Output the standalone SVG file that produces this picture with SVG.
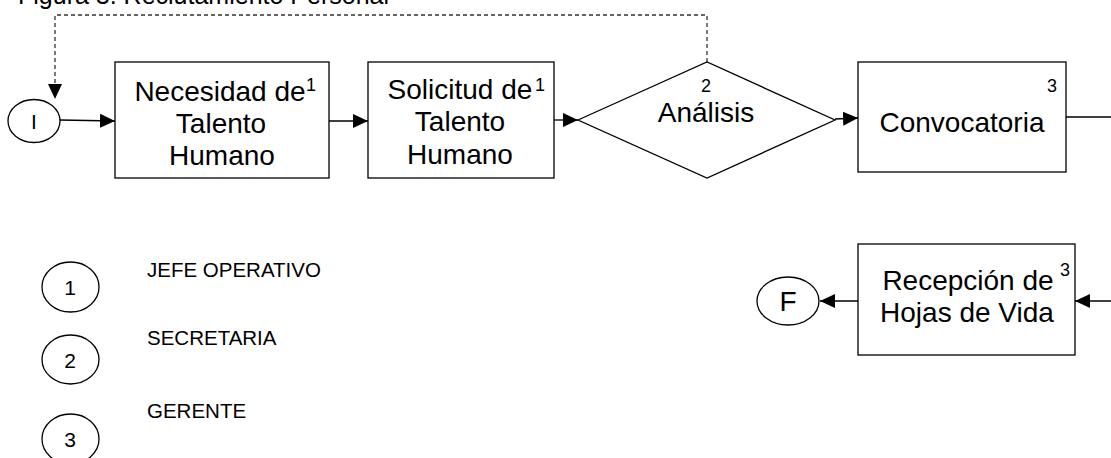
<svg xmlns="http://www.w3.org/2000/svg" width="1111" height="458" viewBox="0 0 1111 458">
  <style>
    .shape { fill: #ffffff; stroke: #000000; stroke-width: 1.3; }
    .line { fill: none; stroke: #000000; stroke-width: 1.3; }
    .dash { fill: none; stroke: #333333; stroke-width: 1.3; stroke-dasharray: 4 3; }
    .lbl { font-family: "Liberation Sans", Arial, sans-serif; font-size: 28px; fill: #000000; text-anchor: middle; }
    .sup { font-family: "Liberation Sans", Arial, sans-serif; font-size: 18px; fill: #000000; }
    .num { font-family: "Liberation Sans", Arial, sans-serif; font-size: 21px; fill: #000000; text-anchor: middle; }
    .role { font-family: "Liberation Sans", Arial, sans-serif; font-size: 20.5px; fill: #000000; }
    .title { font-family: "Liberation Sans", Arial, sans-serif; font-size: 25px; fill: #000000; }
  </style>
  <defs>
    <marker id="arrow" markerUnits="userSpaceOnUse" markerWidth="16" markerHeight="14" refX="15" refY="7" orient="auto">
      <path d="M0,0 L15,7 L0,14 Z" fill="#000000"/>
    </marker>
  </defs>

  <rect x="0" y="0" width="1111" height="458" fill="#ffffff"/>

  <text class="title" x="18" y="4">Figura 3. Reclutamiento Personal</text>

  <!-- connectors -->
  <g id="connectors">
    <path class="dash" d="M707,62 L707,15 L55,15 L55,99" marker-end="url(#arrow)"/>
    <line class="line" x1="60" y1="120" x2="115" y2="121" marker-end="url(#arrow)"/>
    <line class="line" x1="329" y1="121" x2="368" y2="121" marker-end="url(#arrow)"/>
    <line class="line" x1="554" y1="120" x2="578" y2="120" marker-end="url(#arrow)"/>
    <line class="line" x1="835" y1="119" x2="858" y2="118" marker-end="url(#arrow)"/>
    <line class="line" x1="1066" y1="117" x2="1111" y2="117"/>
    <line class="line" x1="1111" y1="301" x2="1075" y2="301" marker-end="url(#arrow)"/>
    <line class="line" x1="858" y1="301" x2="820" y2="301" marker-end="url(#arrow)"/>
  </g>

  <!-- start -->
  <g id="start">
    <ellipse class="shape" cx="34" cy="121" rx="26" ry="21.5"/>
    <text class="num" x="34" y="129" font-size="20">I</text>
  </g>

  <g id="necesidad">
    <rect class="shape" x="115" y="62" width="214" height="116"/>
    <text class="lbl" x="220" y="101">Necesidad de<tspan class="sup" dy="-10" x="311">1</tspan></text>
    <text class="lbl" x="221" y="133">Talento</text>
    <text class="lbl" x="222" y="165">Humano</text>
  </g>

  <g id="solicitud">
    <rect class="shape" x="368" y="62" width="186" height="116"/>
    <text class="lbl" x="460" y="99">Solicitud de<tspan class="sup" dy="-8" x="540">1</tspan></text>
    <text class="lbl" x="460" y="131">Talento</text>
    <text class="lbl" x="460" y="164">Humano</text>
  </g>

  <g id="analisis">
    <polygon class="shape" points="578,120 707,62 835,120 707,178"/>
    <text class="sup" x="706" y="92" text-anchor="middle">2</text>
    <text class="lbl" x="706" y="122">Análisis</text>
  </g>

  <g id="convocatoria">
    <rect class="shape" x="858" y="62" width="208" height="110"/>
    <text class="sup" x="1047" y="92">3</text>
    <text class="lbl" x="962" y="132">Convocatoria</text>
  </g>

  <g id="recepcion">
    <rect class="shape" x="858" y="244" width="217" height="111"/>
    <text class="lbl" x="968" y="290">Recepción de<tspan class="sup" dy="-14" x="1065">3</tspan></text>
    <text class="lbl" x="967" y="322">Hojas de Vida</text>
  </g>

  <!-- end -->
  <g id="end">
    <ellipse class="shape" cx="788" cy="301" rx="31" ry="24"/>
    <text class="lbl" x="788" y="311" font-size="26">F</text>
  </g>

  <!-- roles -->
  <g id="role-1">
    <ellipse class="shape" cx="70.5" cy="287" rx="28.5" ry="25"/>
    <text class="num" x="70" y="295">1</text>
    <text class="role" x="147" y="277">JEFE OPERATIVO</text>
  </g>
  <g id="role-2">
    <ellipse class="shape" cx="70.5" cy="359.5" rx="28.5" ry="24.5"/>
    <text class="num" x="70" y="368">2</text>
    <text class="role" x="147" y="345">SECRETARIA</text>
  </g>
  <g id="role-3">
    <ellipse class="shape" cx="70.5" cy="439" rx="28.5" ry="25"/>
    <text class="num" x="70" y="447">3</text>
    <text class="role" x="147" y="418">GERENTE</text>
  </g>
</svg>
